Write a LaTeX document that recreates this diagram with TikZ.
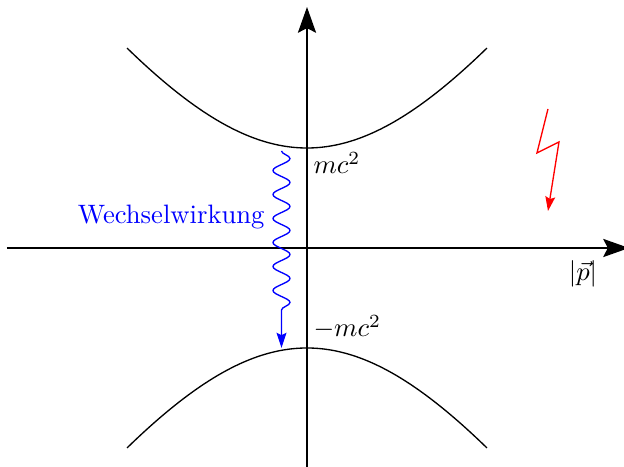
\documentclass[tikz,border=0pt]{standalone}
\usetikzlibrary{arrows.meta,decorations.pathmorphing}
\begin{document}
\begin{tikzpicture}[x=1.32cm,y=1.32cm,
  axis/.style={line width=0.5pt,-{Stealth[length=3.4mm,width=2.4mm,inset=0.6mm]}},
  band/.style={line width=0.5pt},
  wave/.style={blue,line width=0.5pt,-{Stealth[length=2mm,width=1.3mm,inset=0.3mm]},
    decorate,decoration={snake,amplitude=0.085*1.32cm,segment length=0.24*1.32cm,post length=0.33*1.32cm}},
  flash/.style={red,line width=0.5pt,-{Stealth[length=1.9mm,width=1.3mm,inset=0.3mm]}}]
\useasboundingbox (-3.07,-2.19) rectangle (3.17,2.48);
% axes
\coordinate (xl) at (-3.00,0);
\coordinate (xr) at (3.22,0);
\coordinate (yb) at (0,-2.19);
\coordinate (yt) at (0,2.41);
\draw[axis] (xl) -- (xr);
\draw[axis] (yb) -- (yt);
% bands
\draw[band] plot[domain=-1.8:1.8,samples=80,smooth] (\x,{1+sqrt(9+2.16*\x*\x)-3});
\draw[band] plot[domain=-1.8:1.8,samples=80,smooth] (\x,{-1-sqrt(9+2.16*\x*\x)+3});
% labels
\node[anchor=west,inner sep=0pt] (mc) at (0.06,0.85) {$mc^2$};
\node[anchor=west,inner sep=0pt] (mmc) at (0.06,-0.79) {$-mc^2$};
\node[anchor=center,inner sep=0pt] (p) at (2.76,-0.26) {$|\vec{p}|$};
\node[anchor=east,inner sep=0pt,blue] (ww) at (-0.42,0.31) {Wechselwirkung};
% interaction
\coordinate (w1) at (-0.255,0.97);
\coordinate (w2) at (-0.255,-1.00);
\draw[wave] (w1) -- (w2);
% lightning
\coordinate (f1) at (2.41,1.39);
\coordinate (f2) at (2.30,0.95);
\coordinate (f3) at (2.52,1.06);
\coordinate (f4) at (2.41,0.37);
\draw[flash] (f1) -- (f2) -- (f3) -- (f4);
\end{tikzpicture}
\end{document}
